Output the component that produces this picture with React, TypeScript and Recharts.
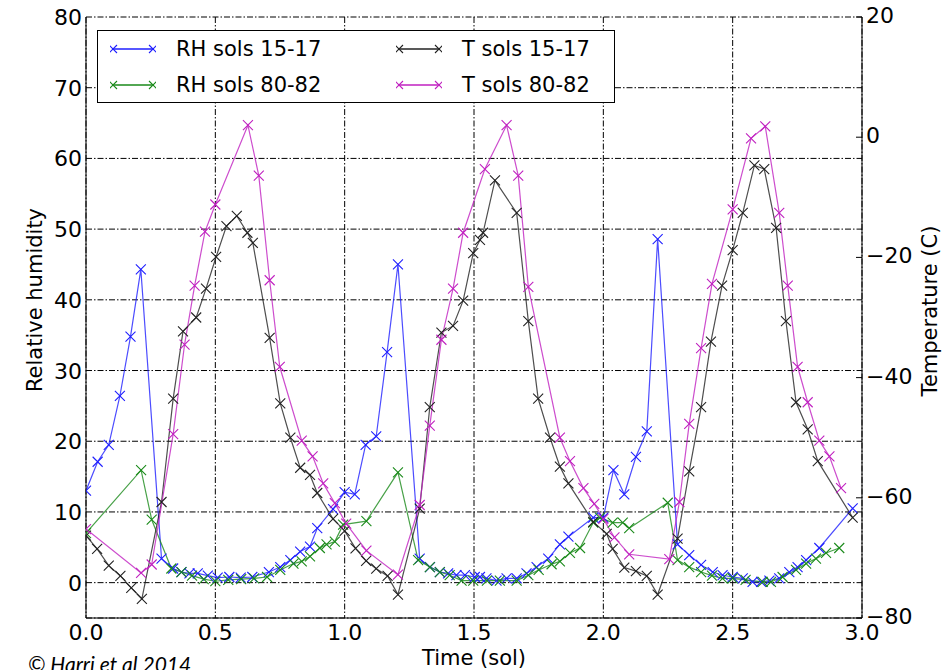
import React from 'react';
import { LineChart, Line, XAxis, YAxis, CartesianGrid } from 'recharts';

// time in sol, RH in %, T in deg C
const rh1517Time = [0.0, 0.045, 0.088, 0.131, 0.172, 0.212, 0.292, 0.337, 0.369, 0.4, 0.432, 0.471, 0.509, 0.554, 0.598, 0.643, 0.707, 0.751, 0.79, 0.828, 0.866, 0.894, 0.955, 1.0, 1.039, 1.081, 1.122, 1.164, 1.206, 1.29, 1.33, 1.368, 1.4, 1.432, 1.465, 1.503, 1.523, 1.548, 1.587, 1.626, 1.665, 1.703, 1.742, 1.787, 1.832, 1.865, 1.961, 2.0, 2.039, 2.081, 2.126, 2.168, 2.21, 2.287, 2.332, 2.378, 2.423, 2.461, 2.5, 2.539, 2.577, 2.61, 2.642, 2.68, 2.719, 2.751, 2.784, 2.835, 2.964];
const rh1517 = [13.0, 17.1, 19.5, 26.4, 34.8, 44.3, 3.4, 2.0, 1.5, 1.3, 1.3, 1.0, 0.7, 0.8, 0.7, 0.8, 1.5, 2.2, 3.2, 4.4, 5.1, 7.7, 10.4, 12.8, 12.5, 19.5, 20.7, 32.6, 45.0, 3.4, 2.2, 1.5, 1.3, 1.05, 1.05, 0.8, 0.8, 0.6, 0.3, 0.6, 0.6, 1.3, 2.2, 3.4, 5.4, 6.5, 9.2, 9.2, 15.9, 12.5, 17.8, 21.4, 48.6, 5.4, 3.9, 2.5, 1.5, 1.05, 0.8, 0.6, 0.1, 0.1, 0.3, 0.6, 1.5, 2.2, 3.2, 4.9, 10.5];

const rh8082Time = [0.0, 0.213, 0.254, 0.33, 0.369, 0.41, 0.455, 0.5, 0.55, 0.6, 0.65, 0.7, 0.751, 0.802, 0.834, 0.866, 0.904, 0.93, 0.962, 0.994, 1.084, 1.206, 1.284, 1.329, 1.368, 1.406, 1.452, 1.497, 1.55, 1.6, 1.665, 1.71, 1.75, 1.8, 1.832, 1.871, 1.91, 1.961, 1.987, 2.036, 2.075, 2.1, 2.249, 2.287, 2.332, 2.378, 2.42, 2.461, 2.5, 2.55, 2.616, 2.648, 2.693, 2.745, 2.784, 2.822, 2.861, 2.912];
const rh8082 = [7.0, 15.9, 8.9, 2.0, 1.5, 1.0, 0.5, 0.2, 0.4, 0.5, 0.6, 0.8, 1.8, 2.7, 3.0, 3.7, 4.9, 5.4, 5.8, 8.2, 8.7, 15.6, 3.2, 2.2, 1.5, 1.05, 0.3, 0.3, 0.3, 0.3, 0.3, 1.05, 1.8, 2.6, 3.0, 4.2, 4.9, 8.5, 9.2, 8.5, 8.5, 7.7, 11.3, 3.2, 2.2, 1.5, 1.0, 0.6, 0.6, 0.4, 0.1, 0.1, 0.8, 1.8, 2.7, 3.4, 4.2, 4.9];

const t1517Time = [0.0, 0.043, 0.088, 0.133, 0.175, 0.216, 0.292, 0.337, 0.375, 0.426, 0.464, 0.503, 0.543, 0.583, 0.624, 0.645, 0.71, 0.751, 0.79, 0.828, 0.866, 0.894, 0.955, 1.0, 1.042, 1.083, 1.122, 1.166, 1.206, 1.29, 1.329, 1.374, 1.419, 1.458, 1.497, 1.523, 1.535, 1.581, 1.665, 1.71, 1.748, 1.794, 1.832, 1.865, 1.961, 2.013, 2.036, 2.081, 2.126, 2.168, 2.21, 2.287, 2.332, 2.378, 2.416, 2.459, 2.5, 2.539, 2.584, 2.622, 2.668, 2.706, 2.745, 2.79, 2.829, 2.964];
const t1517 = [-66.3, -68.5, -71.3, -73.0, -75.0, -76.8, -60.7, -43.5, -32.3, -30.0, -25.2, -19.9, -14.8, -13.1, -15.9, -17.6, -33.4, -44.3, -50.0, -55.0, -56.2, -59.2, -63.5, -65.5, -68.4, -70.5, -71.8, -73.0, -76.1, -61.8, -44.9, -32.5, -31.4, -27.2, -19.3, -17.1, -15.9, -7.2, -12.6, -30.6, -43.5, -50.0, -54.8, -57.6, -64.0, -66.0, -68.5, -71.6, -72.2, -73.0, -76.1, -66.8, -55.6, -44.9, -34.0, -24.7, -18.8, -12.6, -4.7, -5.3, -15.1, -30.6, -44.1, -48.6, -53.9, -63.3];

const t8082Time = [0.0, 0.213, 0.254, 0.337, 0.381, 0.42, 0.46, 0.5, 0.626, 0.668, 0.71, 0.749, 0.834, 0.876, 0.917, 0.962, 1.006, 1.084, 1.206, 1.29, 1.329, 1.374, 1.419, 1.458, 1.542, 1.626, 1.671, 1.71, 1.832, 1.871, 1.923, 1.965, 2.0, 2.043, 2.1, 2.255, 2.294, 2.332, 2.378, 2.42, 2.5, 2.571, 2.626, 2.68, 2.713, 2.751, 2.79, 2.835, 2.874, 2.919];
const t8082 = [-65.2, -72.5, -71.1, -49.4, -34.5, -24.7, -15.7, -11.2, 2.0, -6.4, -23.8, -38.2, -50.5, -53.1, -57.6, -60.9, -64.3, -68.8, -72.8, -61.2, -48.0, -33.7, -25.2, -15.9, -5.3, 2.0, -6.4, -24.9, -50.0, -53.9, -58.4, -61.0, -63.5, -66.6, -69.4, -70.2, -60.7, -47.7, -35.1, -24.4, -12.0, -0.2, 1.8, -12.6, -24.7, -38.2, -44.1, -50.5, -53.1, -58.4];

const timeTicks = [0, 0.5, 1, 1.5, 2, 2.5, 3];
const rhTicks = [0, 10, 20, 30, 40, 50, 60, 70, 80];
const tempTicks = [-80, -60, -40, -20, 0, 20];

const FONT = '"DejaVu Sans", sans-serif';
const BLUE = '#1f1fff';
const GREEN = '#1a8a1a';
const BLACK = '#222222';
const MAGENTA = '#c020c0';

const zip = (ts: number[], vs: number[]) => ts.map((t, i) => ({ t, v: vs[i] }));

const crossDot = (color: string) => (p: any) => {
  const { cx, cy, index } = p;
  if (cx == null || cy == null) return <g key={`e${index}`} />;
  const s = 5;
  return (
    <path
      key={`d${index}`}
      d={`M${cx - s},${cy - s}L${cx + s},${cy + s}M${cx - s},${cy + s}L${cx + s},${cy - s}`}
      stroke={color}
      strokeWidth={1.1}
      fill="none"
    />
  );
};

const XTick = (p: any) => (
  <text x={p.x} y={p.y} dy={22} textAnchor="middle" fontSize={22} fontFamily={FONT} fill="#000">
    {Number(p.payload.value).toFixed(1)}
  </text>
);

const LeftTick = (p: any) => (
  <text x={p.x} y={p.y} dy={8} textAnchor="end" fontSize={22} fontFamily={FONT} fill="#000">
    {p.payload.value}
  </text>
);

const RightTick = (p: any) => {
  const v = p.payload.value;
  const label = v < 0 ? `\u2212${Math.abs(v)}` : `${v}`;
  return (
    <g>
      <line x1={p.x - 4} x2={p.x - 10} y1={p.y} y2={p.y} stroke="#000" strokeWidth={1} />
      <text x={p.x} y={p.y} dy={6} textAnchor="start" fontSize={22} fontFamily={FONT} fill="#000">
        {label}
      </text>
    </g>
  );
};

const legendItems = [
  { name: 'RH sols 15-17', color: BLUE },
  { name: 'T sols 15-17', color: BLACK },
  { name: 'RH sols 80-82', color: GREEN },
  { name: 'T sols 80-82', color: MAGENTA },
];

const Sample = ({ color }: { color: string }) => (
  <svg width={46} height={14} style={{ marginRight: 20 }}>
    <line x1={3} x2={43} y1={7} y2={7} stroke={color} strokeWidth={1.5} />
    <path d="M-1,3L7,11M-1,11L7,3M39,3L47,11M39,11L47,3" stroke={color} strokeWidth={1.1} fill="none" />
  </svg>
);

export default function App() {
  return (
    <div style={{ position: 'absolute', left: 0, top: 0, width: 943, height: 670, background: '#fff', overflow: 'hidden' }}>
      <LineChart width={943} height={670} margin={{ top: 17, right: 0, bottom: 0, left: 0 }}>
        <CartesianGrid yAxisId="rh" stroke="#000" strokeWidth={1} strokeDasharray="6 2 1.5 2" />
        <XAxis
          dataKey="t"
          type="number"
          domain={[0, 3]}
          ticks={timeTicks}
          height={52}
          tickSize={0}
          tickMargin={0}
          tick={<XTick />}
          axisLine={{ stroke: '#000', strokeWidth: 1 }}
          tickLine={false}
          allowDataOverflow
        />
        <XAxis xAxisId="top" orientation="top" type="number" domain={[0, 3]} height={0} tick={false} tickLine={false} axisLine={{ stroke: '#000', strokeWidth: 1 }} />
        <YAxis
          yAxisId="rh"
          type="number"
          domain={[-5, 80]}
          ticks={rhTicks}
          width={86}
          tickSize={0}
          tickMargin={4}
          tick={<LeftTick />}
          tickLine={false}
          axisLine={{ stroke: '#000', strokeWidth: 1 }}
          allowDataOverflow
        />
        <YAxis
          yAxisId="temp"
          orientation="right"
          type="number"
          domain={[-80, 20]}
          ticks={tempTicks}
          width={81}
          tickSize={0}
          tickMargin={4}
          tick={<RightTick />}
          tickLine={false}
          axisLine={{ stroke: '#000', strokeWidth: 1 }}
          allowDataOverflow
        />
        <Line yAxisId="rh" data={zip(rh1517Time, rh1517)} dataKey="v" type="linear" stroke={BLUE} strokeWidth={1.2} strokeOpacity={0.8} dot={crossDot(BLUE)} activeDot={false} isAnimationActive={false} />
        <Line yAxisId="rh" data={zip(rh8082Time, rh8082)} dataKey="v" type="linear" stroke={GREEN} strokeWidth={1.2} strokeOpacity={0.8} dot={crossDot(GREEN)} activeDot={false} isAnimationActive={false} />
        <Line yAxisId="temp" data={zip(t1517Time, t1517)} dataKey="v" type="linear" stroke={BLACK} strokeWidth={1.2} strokeOpacity={0.8} dot={crossDot(BLACK)} activeDot={false} isAnimationActive={false} />
        <Line yAxisId="temp" data={zip(t8082Time, t8082)} dataKey="v" type="linear" stroke={MAGENTA} strokeWidth={1.2} strokeOpacity={0.8} dot={crossDot(MAGENTA)} activeDot={false} isAnimationActive={false} />
      </LineChart>

      <div
        style={{
          position: 'absolute', left: 97, top: 30, width: 516, height: 71,
          border: '1px solid #000', background: '#fff',
          display: 'grid', gridTemplateColumns: '286px 230px', gridTemplateRows: '36px 35px',
          alignItems: 'center', fontFamily: FONT, fontSize: 21, color: '#000',
        }}
      >
        {legendItems.map((it) => (
          <div key={it.name} style={{ display: 'flex', alignItems: 'center', paddingLeft: 12 }}>
            <Sample color={it.color} />
            <span>{it.name}</span>
          </div>
        ))}
      </div>

      <div style={{ position: 'absolute', left: 35, top: 300, transform: 'translate(-50%, -50%) rotate(-90deg)', whiteSpace: 'nowrap', fontFamily: FONT, fontSize: 21 }}>
        Relative humidity
      </div>
      <div style={{ position: 'absolute', left: 930, top: 311, transform: 'translate(-50%, -50%) rotate(-90deg)', whiteSpace: 'nowrap', fontFamily: FONT, fontSize: 21 }}>
        Temperature (C)
      </div>
      <div style={{ position: 'absolute', left: 474, top: 658, transform: 'translate(-50%, -50%)', whiteSpace: 'nowrap', fontFamily: FONT, fontSize: 21 }}>
        Time (sol)
      </div>
      <div style={{ position: 'absolute', left: 28, top: 651, whiteSpace: 'nowrap', fontFamily: 'Lato, sans-serif', fontStyle: 'italic', fontSize: 21 }}>
        © Harri et al 2014
      </div>
    </div>
  );
}
